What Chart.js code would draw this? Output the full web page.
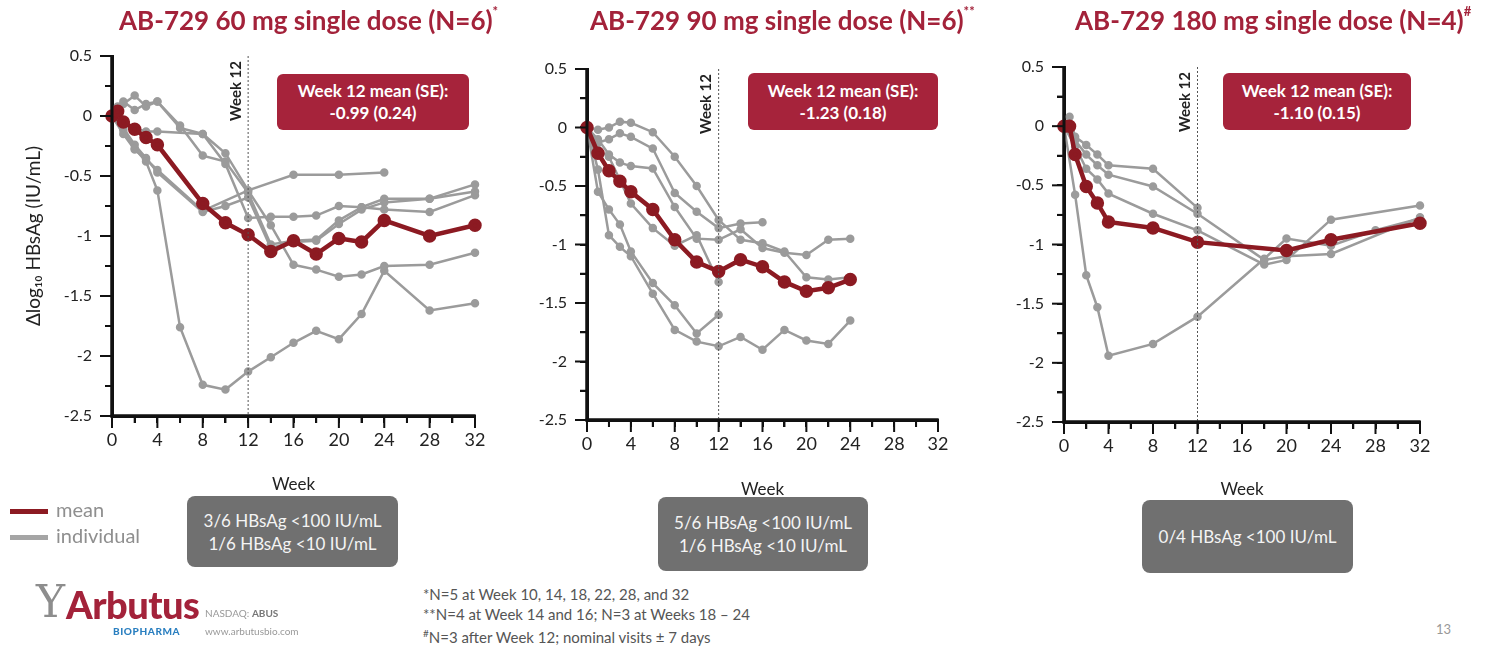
<!DOCTYPE html>
<html>
<head>
<meta charset="utf-8">
<script src="https://cdn.jsdelivr.net/npm/chart.js@4"></script>
<style>
  body { margin: 0; background: #fff; font-family: Lato, "Open Sans", sans-serif; }
  #page { position: relative; width: 1488px; height: 648px; overflow: hidden; }
  .panel { position: absolute; top: 0; height: 500px; }
  .title { position: absolute; top: 4px; font-size: 26px; font-weight: bold; color: #a3223a; white-space: nowrap; }
  .title sup { font-size: 13px; position: relative; top: -4px; }
  .meanbox { position: absolute; background: #a6233b; color: #fff; border-radius: 6px; font-weight: bold; font-size: 17px; line-height: 22px; text-align: center; display: flex; flex-direction: column; justify-content: center; }
  .statbox { position: absolute; background: #707070; color: #f4f4f4; border-radius: 8px; font-size: 17px; line-height: 23px; text-align: center; display: flex; flex-direction: column; justify-content: center; }
  .legend { position: absolute; left: 10px; font-size: 20px; color: #8f8f8f; }
  .legend span { display: inline-block; width: 38px; height: 5px; vertical-align: middle; margin-right: 8px; }
  .notes { position: absolute; left: 423px; top: 585px; font-size: 15px; line-height: 19.5px; color: #555; }
  .notes sup { font-size: 10px; }
</style>
</head>
<body>
<div id="page">
  <div class="panel" style="left:0px;width:500px"><canvas id="c60" width="500" height="500"></canvas></div>
  <div class="panel" style="left:500px;width:478px"><canvas id="c90" width="478" height="500"></canvas></div>
  <div class="panel" style="left:980px;width:508px"><canvas id="c180" width="508" height="500"></canvas></div>

  <div class="title" style="left:119px">AB-729 60 mg single dose (N=6)<sup>*</sup></div>
  <div class="title" style="left:590px">AB-729 90 mg single dose (N=6)<sup>**</sup></div>
  <div class="title" style="left:1075px">AB-729 180 mg single dose (N=4)<sup>#</sup></div>

  <div class="meanbox" style="left:277px;top:74px;width:192px;height:56px">Week 12 mean (SE):<br>-0.99 (0.24)</div>
  <div class="meanbox" style="left:748px;top:73px;width:190px;height:57px">Week 12 mean (SE):<br>-1.23 (0.18)</div>
  <div class="meanbox" style="left:1223px;top:73px;width:188px;height:57px">Week 12 mean (SE):<br>-1.10 (0.15)</div>

  <div class="statbox" style="left:187px;top:496px;width:211px;height:71px">3/6 HBsAg &lt;100 IU/mL<br>1/6 HBsAg &lt;10 IU/mL</div>
  <div class="statbox" style="left:658px;top:497px;width:210px;height:74px">5/6 HBsAg &lt;100 IU/mL<br>1/6 HBsAg &lt;10 IU/mL</div>
  <div class="statbox" style="left:1142px;top:500px;width:211px;height:73px">0/4 HBsAg &lt;100 IU/mL</div>

  <div class="legend" style="top:497px"><span style="background:#8c1a22"></span>mean</div>
  <div class="legend" style="top:523px"><span style="background:#a5a5a5"></span>individual</div>

  <div style="position:absolute;left:36px;top:578px;font-family:'DejaVu Serif',serif;font-size:44px;color:#8d8d8d;line-height:48px">Y</div>
  <div style="position:absolute;left:66px;top:582px;font-size:38px;font-weight:900;color:#a3223a;line-height:44px;letter-spacing:-0.5px">Arbutus</div>
  <div style="position:absolute;left:113px;top:625px;font-size:10px;font-weight:900;color:#2a7fc0;letter-spacing:0.6px">BIOPHARMA</div>
  <div style="position:absolute;left:205px;top:607px;font-size:10px;color:#999">NASDAQ: <b style="color:#777">ABUS</b></div>
  <div style="position:absolute;left:205px;top:625px;font-size:10px;color:#999">www.arbutusbio.com</div>

  <div class="notes">
    *N=5 at Week 10, 14, 18, 22, 28, and 32<br>
    **N=4 at Week 14 and 16; N=3 at Weeks 18 – 24<br>
    <sup>#</sup>N=3 after Week 12; nominal visits ± 7 days
  </div>
  <div style="position:absolute;left:1436px;top:621px;font-size:13px;color:#999">13</div>
</div>

<script>
// ---- 60 mg cohort ----
const weeks60 = [0, 0.5, 1, 2, 3, 4, 6, 8, 10, 12, 14, 16, 18, 20, 22, 24, 28, 32];
const mean60 = [0, 0.04, -0.05, -0.11, -0.18, -0.24, null, -0.73, -0.89, -0.99, -1.13, -1.04, -1.15, -1.02, -1.05, -0.87, -1.0, -0.91];
const subj60a = [0, null, -0.12, -0.27, -0.38, -0.62, -1.76, -2.24, -2.28, -2.13, -2.01, -1.89, -1.79, -1.86, -1.65, -1.29, -1.62, -1.56];
const subj60b = [0, null, 0.1, 0.17, 0.08, 0.12, -0.1, -0.15, -0.31, -0.62, -0.91, -1.24, -1.28, -1.34, -1.32, -1.25, -1.24, -1.14];
const subj60c = [0, 0.08, 0.12, 0.05, 0.1, 0.12, -0.08, -0.33, -0.38, -0.64, -1.07, -1.04, -1.03, -0.87, -0.76, -0.78, -0.8, -0.66];
const subj60d = [0, null, -0.05, -0.1, -0.13, -0.13, null, -0.15, -0.4, -0.85, -0.84, -0.84, -0.83, -0.75, -0.76, -0.69, -0.69, -0.57];
const subj60e = [0, null, -0.15, -0.28, -0.36, -0.45, null, -0.79, null, -0.62, null, -0.49, null, -0.49, null, -0.47, null, null];
const subj60f = [0, null, -0.1, -0.24, -0.35, -0.47, null, -0.8, -0.75, -0.68, -1.1, -1.05, -1.04, -0.9, -0.78, -0.72, -0.69, -0.63];

// ---- 90 mg cohort ----
const weeks90 = [0, 1, 2, 3, 4, 6, 8, 10, 12, 14, 16, 18, 20, 22, 24];
const mean90 = [0, -0.22, -0.37, -0.46, -0.55, -0.7, -0.96, -1.15, -1.23, -1.13, -1.19, -1.32, -1.4, -1.37, -1.3];
const subj90a = [0, -0.02, 0.0, 0.05, 0.04, -0.04, -0.25, -0.5, -0.79, -0.96, -0.99, -1.06, -1.28, -1.3, -1.28];
const subj90b = [0, -0.13, -0.1, -0.05, -0.08, -0.18, -0.56, -0.72, -0.86, -0.82, -0.81, null, null, null, null];
const subj90c = [0, -0.1, -0.23, -0.3, -0.33, -0.35, -0.68, -0.95, -0.96, -0.87, -1.03, -1.07, -1.09, -0.96, -0.95];
const subj90d = [0, -0.19, -0.25, -0.45, -0.65, -0.86, -1.01, -0.92, -1.32, null, null, null, null, null, null];
const subj90e = [0, -0.55, -0.7, -0.83, -1.06, -1.33, -1.52, -1.76, -1.6, null, null, null, null, null, null];
const subj90f = [0, -0.36, -0.92, -1.02, -1.1, -1.42, -1.73, -1.83, -1.87, -1.79, -1.9, -1.73, -1.82, -1.85, -1.65];

// ---- 180 mg cohort ----
const weeks180 = [0, 0.5, 1, 2, 3, 4, 8, 12, 18, 20, 24, 28, 32];
const mean180 = [0, 0, -0.24, -0.51, -0.65, -0.81, -0.86, -0.98, null, -1.05, -0.96, null, -0.82];
const subj180a = [0, 0.08, -0.09, -0.16, -0.24, -0.33, -0.36, -0.69, null, null, null, null, null];
const subj180b = [0, null, -0.12, -0.24, -0.33, -0.41, -0.51, -0.74, -1.13, -1.1, -1.08, null, -0.77];
const subj180c = [0, null, -0.17, -0.36, -0.45, -0.57, -0.74, -0.88, -1.17, -1.13, -0.79, null, -0.67];
const subj180d = [0, null, -0.58, -1.26, -1.53, -1.94, -1.84, -1.61, -1.12, -0.95, -1.01, -0.88, -0.78];

const yTicks = ["0.5", "0", "-0.5", "-1", "-1.5", "-2", "-2.5"];
const xTicks = ["0", "4", "8", "12", "16", "20", "24", "28", "32"];
const Y_MIN = -2.5, Y_MAX = 0.5, X_MIN = 0, X_MAX = 32;

const MEAN_COLOR = "#8c1a22";
const IND_COLOR = "#9b9b9b";
const AXIS_COLOR = "#111111";

function toPoints(weeks, vals) {
  return vals.map((v, i) => ({ x: weeks[i], y: v })).filter(p => p.y !== null);
}

// tick marks (long at labelled ticks), dotted Week 12 line and its label
const axesAndWeek12 = {
  id: "axesAndWeek12",
  afterDraw(chart) {
    const ctx = chart.ctx;
    const x = chart.scales.x;
    const y = chart.scales.y;
    const left = x.getPixelForValue(X_MIN);
    const right = x.getPixelForValue(X_MAX);
    const top = y.getPixelForValue(Y_MAX);
    const bottom = y.getPixelForValue(Y_MIN);
    ctx.save();

    const px12 = x.getPixelForValue(12);
    ctx.strokeStyle = "#555";
    ctx.lineWidth = 1;
    ctx.setLineDash([2, 2]);
    ctx.beginPath();
    ctx.moveTo(px12, top);
    ctx.lineTo(px12, bottom);
    ctx.stroke();
    ctx.setLineDash([]);

    ctx.fillStyle = AXIS_COLOR;
    ctx.fillRect(left - 1.5, top, 3, bottom - top + 1.5);
    ctx.fillRect(left - 1.5, bottom - 1.5, right - left + 2.5, 3);

    y.ticks.forEach(t => {
      const py = y.getPixelForValue(t.value);
      const len = yTicks.includes(String(t.value)) ? 12 : 7;
      ctx.fillRect(left - len, py - 1, len, 2);
    });
    x.ticks.forEach(t => {
      const px = x.getPixelForValue(t.value);
      const len = xTicks.includes(String(t.value)) ? 12 : 7;
      ctx.fillRect(px - 1, bottom, 2, len);
    });

    ctx.translate(px12 - 12, top + 35);
    ctx.rotate(-Math.PI / 2);
    ctx.font = "bold 15px Lato";
    ctx.fillStyle = "#222";
    ctx.textAlign = "center";
    ctx.textBaseline = "middle";
    ctx.fillText("Week 12", 0, 0);
    ctx.restore();
  }
};

function makeChart(id, weeks, mean, subjects, box) {
  const datasets = [{
    data: toPoints(weeks, mean),
    borderColor: MEAN_COLOR,
    backgroundColor: MEAN_COLOR,
    borderWidth: 4.5,
    pointRadius: 4.5,
    clip: false
  }];
  subjects.forEach(s => datasets.push({
    data: toPoints(weeks, s),
    borderColor: IND_COLOR,
    backgroundColor: IND_COLOR,
    borderWidth: 2.5,
    pointRadius: 3,
    clip: false
  }));
  // the L-shaped axis line, drawn underneath everything else
  datasets.push({
    data: [{ x: X_MIN, y: Y_MAX }, { x: X_MIN, y: Y_MIN }, { x: X_MAX, y: Y_MIN }],
    borderColor: AXIS_COLOR,
    borderWidth: 3,
    pointRadius: 0,
    clip: false
  });

  const axisGrid = { display: true, drawOnChartArea: false, drawTicks: true, tickLength: 7, color: AXIS_COLOR, lineWidth: 2 };

  return new Chart(document.getElementById(id), {
    type: "line",
    data: { datasets },
    options: {
      responsive: false,
      animation: false,
      layout: { padding: { top: box.top, right: box.right, left: 0, bottom: 0 } },
      plugins: { legend: { display: false }, tooltip: { enabled: false } },
      scales: {
        x: {
          type: "linear",
          min: X_MIN,
          max: X_MAX,
          afterFit: s => { s.height = box.xh; },
          grid: axisGrid,
          border: { display: true, color: AXIS_COLOR, width: 3 },
          ticks: {
            stepSize: 2,
            padding: 6,
            color: "#222",
            font: { family: "Lato", size: 18 },
            maxRotation: 0,
            autoSkip: false,
            callback: v => xTicks.includes(String(v)) ? String(v) : ""
          },
          title: {
            display: true,
            text: "Week",
            color: "#222",
            font: { family: "Lato", size: 17 },
            padding: { top: 0, bottom: box.titlePad }
          }
        },
        y: {
          min: Y_MIN,
          max: Y_MAX,
          afterFit: s => { s.width = box.yw; },
          grid: axisGrid,
          border: { display: true, color: AXIS_COLOR, width: 3 },
          ticks: {
            stepSize: 0.25,
            padding: 13,
            color: "#222",
            font: { family: "Lato", size: 16 },
            autoSkip: false,
            callback: v => yTicks.includes(String(v)) ? String(v) : ""
          },
          title: {
            display: box.yTitle,
            text: "Δlog₁₀ HBsAg (IU/mL)",
            color: "#222",
            font: { family: "Lato", size: 19 },
            padding: { top: 22, bottom: 0 }
          }
        }
      }
    },
    plugins: [axesAndWeek12]
  });
}

makeChart("c60", weeks60, mean60,
  [subj60a, subj60b, subj60c, subj60d, subj60e, subj60f],
  { top: 56, right: 25, yw: 112, xh: 84, titlePad: 5, yTitle: true });

makeChart("c90", weeks90, mean90,
  [subj90a, subj90b, subj90c, subj90d, subj90e, subj90f],
  { top: 69, right: 40, yw: 87, xh: 80, titlePad: 0, yTitle: false });

makeChart("c180", weeks180, mean180,
  [subj180a, subj180b, subj180c, subj180d],
  { top: 67, right: 68, yw: 84, xh: 78, titlePad: 0, yTitle: false });
</script>
</body>
</html>
